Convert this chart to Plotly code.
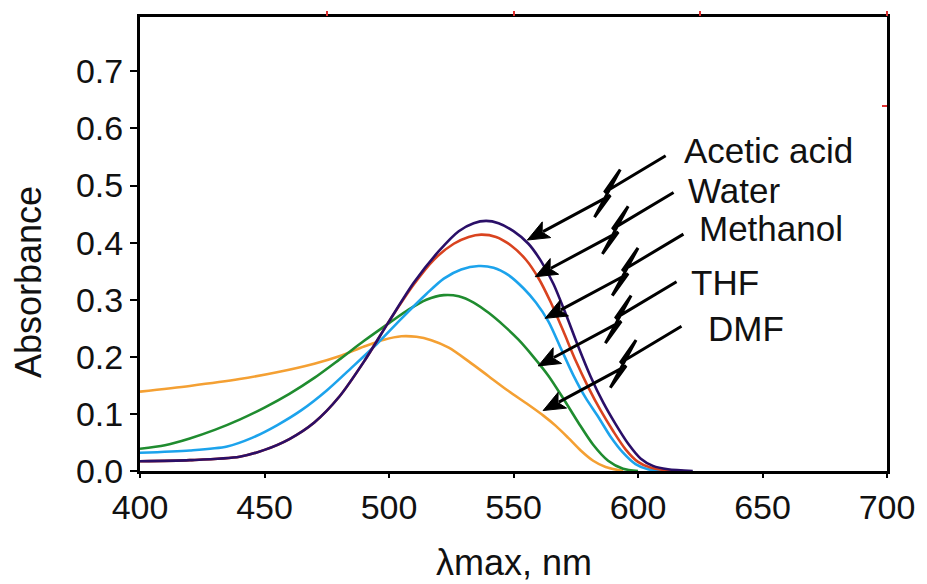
import plotly.graph_objects as go

# ---------------- data ----------------
wl_acetic = [400, 420, 440, 450, 460, 470, 480, 490, 500, 510, 520, 528, 534, 539, 544, 550, 556, 561, 566, 571, 576, 581, 586, 591, 596, 601, 606, 612, 622]
ab_acetic = [0.017, 0.019, 0.025, 0.037, 0.056, 0.085, 0.130, 0.192, 0.262, 0.330, 0.385, 0.420, 0.434, 0.438, 0.434, 0.420, 0.398, 0.368, 0.328, 0.275, 0.218, 0.165, 0.120, 0.082, 0.048, 0.022, 0.009, 0.003, 0.0]

wl_water = [400, 420, 440, 450, 460, 470, 480, 490, 500, 510, 518, 526, 532, 537, 543, 549, 555, 560, 565, 570, 575, 580, 585, 590, 595, 600, 605, 612, 618]
ab_water = [0.017, 0.019, 0.025, 0.037, 0.056, 0.085, 0.130, 0.192, 0.262, 0.327, 0.370, 0.398, 0.410, 0.414, 0.410, 0.395, 0.370, 0.338, 0.295, 0.245, 0.193, 0.147, 0.106, 0.070, 0.038, 0.016, 0.006, 0.001, 0.0]

wl_methanol = [400, 420, 435, 445, 455, 465, 475, 485, 495, 505, 515, 522, 529, 536, 542, 548, 554, 559, 564, 569, 574, 579, 584, 589, 594, 599, 604, 610]
ab_methanol = [0.032, 0.036, 0.043, 0.058, 0.080, 0.107, 0.141, 0.181, 0.222, 0.267, 0.310, 0.337, 0.353, 0.359, 0.356, 0.343, 0.320, 0.295, 0.262, 0.215, 0.168, 0.128, 0.095, 0.060, 0.032, 0.012, 0.003, 0.0]

wl_thf = [400, 410, 420, 430, 440, 450, 460, 470, 480, 490, 500, 508, 515, 522, 528, 534, 540, 546, 552, 558, 564, 570, 576, 582, 588, 594, 600]
ab_thf = [0.039, 0.045, 0.057, 0.072, 0.090, 0.111, 0.135, 0.163, 0.195, 0.228, 0.259, 0.283, 0.300, 0.308, 0.306, 0.295, 0.277, 0.255, 0.230, 0.200, 0.167, 0.127, 0.085, 0.046, 0.018, 0.004, 0.0]

wl_dmf = [400, 420, 440, 455, 470, 480, 490, 498, 505, 511, 517, 524, 532, 540, 548, 556, 562, 567, 572, 577, 582, 587, 594]
ab_dmf = [0.139, 0.149, 0.161, 0.173, 0.188, 0.201, 0.218, 0.230, 0.236, 0.235, 0.229, 0.216, 0.192, 0.166, 0.140, 0.116, 0.097, 0.079, 0.058, 0.036, 0.018, 0.007, 0.0]

series_names = ["DMF", "THF", "Methanol", "Water", "Acetic acid"]
series_colors = ["#f4a033", "#1f8c2f", "#1ca3ec", "#d9431f", "#2a0f68"]

x_ticks = [400, 450, 500, 550, 600, 650, 700]
y_ticks = [0.0, 0.1, 0.2, 0.3, 0.4, 0.5, 0.6, 0.7]
y_ticktext = ["0.0", "0.1", "0.2", "0.3", "0.4", "0.5", "0.6", "0.7"]
top_ticks = [475, 550, 625, 700]

label_texts = ["Acetic acid", "Water", "Methanol", "THF", "DMF"]

# ---------------- geometry helpers ----------------
W, H = 927, 584
PL, PR, PT, PB = 140, 896, 13, 471
XMIN, XMAX = 400, 700
PX_PER_NM = (PR - PL) / (XMAX - XMIN)
PX_PER_A = 576.0
YMAX = (PB - PT) / PX_PER_A


def px2data(px, py):
    return XMIN + (px - PL) / PX_PER_NM, (PB - py) / PX_PER_A


def pxpaper(px, py):
    return (px - PL) / (PR - PL), (PB - py) / (PB - PT)


fig = go.Figure()
for wl, ab, name, col in zip(
    [wl_dmf, wl_thf, wl_methanol, wl_water, wl_acetic],
    [ab_dmf, ab_thf, ab_methanol, ab_water, ab_acetic],
    series_names, series_colors,
):
    fig.add_trace(go.Scatter(x=wl, y=ab, name=name, mode="lines",
                             line=dict(color=col, width=2.6, shape="spline", smoothing=0.8),
                             hoverinfo="skip"))

# dummy trace for secondary axes (red tick marks)
fig.add_trace(go.Scatter(x=[None], y=[None], xaxis="x2", yaxis="y2", mode="lines",
                         showlegend=False, hoverinfo="skip"))

# ---------------- labels & lightning arrows ----------------
label_pos = [(689, 148), (693, 188), (704, 226), (696, 281), (713, 327)]
arrow_tails = [(672, 153), (680, 190), (690, 232), (683, 280), (688, 325)]
zig = [(0, 0), (-62, 37), (-46, 14), (-72, 62), (-56, 40), (-140, 85)]

shapes = []
annotations = []
for txt, (lx, ly) in zip(label_texts, label_pos):
    xp, yp = pxpaper(lx, ly)
    annotations.append(dict(text=txt, x=xp, y=yp, xref="paper", yref="paper",
                            xanchor="left", yanchor="middle", showarrow=False,
                            font=dict(size=35, color="#111111")))

for tx, ty in arrow_tails:
    pts = [(tx + dx, ty + dy) for dx, dy in zig]
    tipx, tipy = pts[-1]
    bx, by = pts[-2]
    ux, uy = tipx - bx, tipy - by
    n = (ux ** 2 + uy ** 2) ** 0.5
    ux, uy = ux / n, uy / n
    nx, ny = -uy, ux
    L, Wd = 22, 9
    backx, backy = tipx - L * ux, tipy - L * uy
    line_pts = pts[:-1] + [(backx + 4 * ux, backy + 4 * uy)]
    d = [px2data(*p) for p in line_pts]
    path = "M " + " L ".join(f"{a:.3f},{b:.5f}" for a, b in d)
    shapes.append(dict(type="path", path=path, xref="x", yref="y",
                       line=dict(color="black", width=3)))
    head = [(tipx, tipy), (backx + Wd * nx, backy + Wd * ny),
            (backx + 5 * ux, backy + 5 * uy), (backx - Wd * nx, backy - Wd * ny)]
    dh = [px2data(*p) for p in head]
    hpath = "M " + " L ".join(f"{a:.3f},{b:.5f}" for a, b in dh) + " Z"
    shapes.append(dict(type="path", path=hpath, xref="x", yref="y",
                       fillcolor="black", line=dict(color="black", width=1)))

# axis titles
ax_x, ax_y = pxpaper(519, 563)
annotations.append(dict(text="λmax, nm", x=ax_x, y=ax_y, xref="paper", yref="paper",
                        xanchor="center", yanchor="middle", showarrow=False,
                        font=dict(size=36, color="#111111")))
ay_x, ay_y = pxpaper(27, 280)
annotations.append(dict(text="Absorbance", x=ay_x, y=ay_y, xref="paper", yref="paper",
                        xanchor="center", yanchor="middle", showarrow=False, textangle=-90,
                        font=dict(size=36, color="#111111")))

fig.update_layout(
    width=W, height=H,
    margin=dict(l=PL, r=W - PR, t=PT, b=H - PB, pad=0),
    paper_bgcolor="white", plot_bgcolor="white",
    showlegend=False,
    font=dict(family="Liberation Sans, Arial, sans-serif", color="#111111"),
    xaxis=dict(range=[XMIN, XMAX], tickvals=x_ticks, ticks="outside", ticklen=4, tickwidth=1.5,
               tickcolor="black", showline=True, linecolor="black", linewidth=3, mirror=True,
               showgrid=False, zeroline=False, tickfont=dict(size=34, color="#111111")),
    yaxis=dict(range=[0, YMAX], tickvals=y_ticks, ticktext=y_ticktext, ticks="outside", ticklen=7,
               tickwidth=1.5, tickcolor="black", showline=True, linecolor="black", linewidth=3,
               mirror=True, showgrid=False, zeroline=False, tickfont=dict(size=34, color="#111111")),
    xaxis2=dict(range=[XMIN, XMAX], overlaying="x", side="top", anchor="y", tickvals=top_ticks,
                ticks="outside", ticklen=5, tickwidth=1.5, tickcolor="#e03030",
                showticklabels=False, showline=False, showgrid=False, zeroline=False),
    yaxis2=dict(range=[0, YMAX], overlaying="y", side="right", anchor="x", tickvals=[0.64],
                ticks="inside", ticklen=5, tickwidth=1.5, tickcolor="#e03030",
                showticklabels=False, showline=False, showgrid=False, zeroline=False),
    shapes=shapes, annotations=annotations,
)

fig.write_html("out.html")
